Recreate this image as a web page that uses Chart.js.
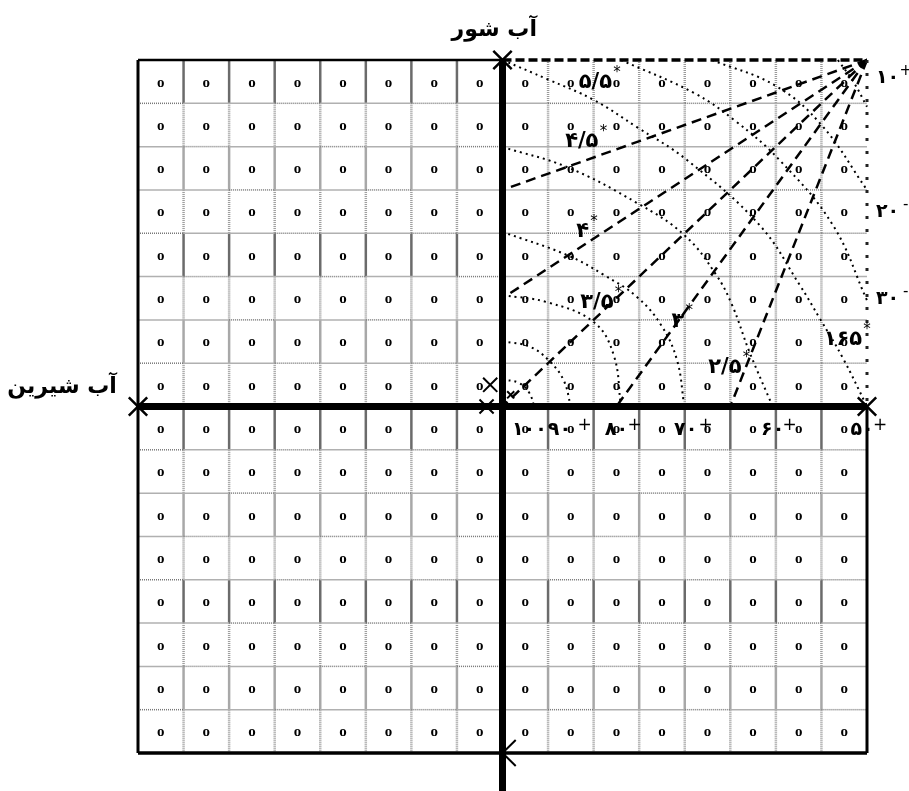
<!DOCTYPE html>
<html>
<head>
<meta charset="utf-8">
<script src="https://cdn.jsdelivr.net/npm/chart.js@4.4.0/dist/chart.umd.min.js"></script>
<style>
  html, body { margin: 0; padding: 0; background: #fff; }
  #wrap { width: 909px; height: 791px; }
</style>
</head>
<body>
<div id="wrap"><canvas id="nomo" width="909" height="791"></canvas></div>
<script>
// =============================
// DATA (grid units, origin = axis crossing)
// =============================
const gridCols = [-8, -7, -6, -5, -4, -3, -2, -1, 0, 1, 2, 3, 4, 5, 6, 7, 8];
const gridRows = [8, 7, 6, 5, 4, 3, 2, 1, 0, -1, -2, -3, -4, -5, -6, -7, -8];
const cellCentersX = [-7.5, -6.5, -5.5, -4.5, -3.5, -2.5, -1.5, -0.5, 0.5, 1.5, 2.5, 3.5, 4.5, 5.5, 6.5, 7.5];
const cellCentersY = [7.5, 6.5, 5.5, 4.5, 3.5, 2.5, 1.5, 0.5, -0.5, -1.5, -2.5, -3.5, -4.5, -5.5, -6.5, -7.5];
const cellText = 'o';

// dashed rays from the top-right corner
const rayOrigin = [8, 8];
const rayEnds = [[0, 5], [0, 2.5], [0, 0], [2.5, 0], [5, 0]];

// dotted curves
const curveA = [[0, 0.62], [0.35, 0.55], [0.58, 0.33], [0.7, 0]];
const curveB = [[0, 1.51], [0.6, 1.38], [1.01, 1.07], [1.34, 0.61], [1.5, 0]];
const curveC = [[0, 2.57], [0.97, 2.41], [2.0, 1.95], [2.44, 1.19], [2.6, 0]];
const curveD = [[0, 4.03], [1.41, 3.5], [2.22, 3.04], [2.95, 2.53], [3.48, 1.88], [3.83, 1.07], [3.99, 0]];
const curveE = [[0, 5.99], [1.41, 5.53], [2.95, 4.7], [4.0, 3.95], [4.69, 3.04], [5.04, 2.34], [5.42, 1.26], [5.93, 0]];
const curveF = [[0, 8], [1.0, 7.55], [2.0, 7.08], [2.95, 6.45], [4.05, 5.69], [5.64, 4.19], [6.52, 2.81], [6.96, 2.04], [7.47, 1.12], [8, 0]];
const curveG = [[2.6, 8], [4.2, 7.24], [5.1, 6.6], [6.08, 5.69], [7.25, 4.19], [8, 2.45]];
const curveH = [[4.6, 8], [6.0, 7.4], [7.0, 6.5], [8, 5.0]];
const curveI = [[7.36, 8], [7.7, 7.5], [8, 6.92]];

// curve labels
const curveLabels = ['۵/۵', '۴/۵', '۴', '۳/۵', '۳', '۲/۵', '۱۶۵'];
const curveLabelX = [2.04, 1.74, 1.76, 2.07, 3.85, 4.88, 7.47];
const curveLabelY = [7.47, 6.11, 4.03, 2.39, 1.96, 0.89, 1.54];

// right side scale
const rightLabels = ['۱۰', '۲۰', '۳۰'];
const rightLabelY = [7.59, 4.49, 2.48];
const rightMarks = ['+', '-', '-'];

// bottom scale (under the horizontal axis)
const bottomLabels = ['۱۰۰', '۹۰', '۸۰', '۷۰', '۶۰', '۵۰'];
const bottomLabelX = [0.59, 1.25, 2.5, 4.02, 5.93, 7.89];
const bottomPlusX = [null, 1.8, 2.9, 4.46, 6.3, 8.29];

// cross marks
const bigCrosses = [[0, 8], [-8, 0], [8, 0]];
const smallCrosses = [[-0.35, 0], [-0.27, 0.5]];
const tinyCrosses = [[0.18, 0.27]];

const titleTop = 'آب شور';
const titleLeft = 'آب شیرین';

const toPts = arr => arr.map(p => ({ x: p[0], y: p[1] }));

// =============================
// DATASETS
// =============================
const datasets = [];

function addLine(points, opts) {
  datasets.push(Object.assign({
    type: 'line',
    data: toPts(points),
    borderColor: '#000',
    borderWidth: 2,
    pointRadius: 0,
    tension: 0,
    fill: false,
    clip: false
  }, opts));
}

// frame
addLine([[-8, 8], [0, 8]], { borderWidth: 2.5 });
addLine([[-8, 8], [-8, -8]], { borderWidth: 3 });
addLine([[-8, -8], [8, -8]], { borderWidth: 3.5 });
addLine([[8, 0], [8, -8]], { borderWidth: 3 });
addLine([[0, 8], [8, 8]], { borderWidth: 3.5, borderDash: [9, 4] });
addLine([[8, 8], [8, 0]], { borderWidth: 3, borderDash: [3, 10], borderColor: '#222' });

// rays
rayEnds.forEach(e => addLine([rayOrigin, e], { borderWidth: 2.5, borderDash: [10, 6] }));

// curves
[curveA, curveB, curveC, curveD, curveE, curveF, curveG, curveH, curveI].forEach(c =>
  addLine(c, { borderWidth: 2, borderDash: [2, 4], tension: 0.4 })
);

// main axes
addLine([[-8, 0], [8, 0]], { borderWidth: 7 });
addLine([[0, 8], [0, -9]], { borderWidth: 7 });

// bottom half-cross
addLine([[0.29, -7.7], [0, -8], [0.29, -8.3]], { borderWidth: 2 });

// crosses
datasets.push({
  type: 'scatter', data: toPts(bigCrosses), pointStyle: 'crossRot',
  pointRadius: 13, borderColor: '#000', borderWidth: 2.5, clip: false
});
datasets.push({
  type: 'scatter', data: toPts(smallCrosses), pointStyle: 'crossRot',
  pointRadius: 10, borderColor: '#000', borderWidth: 2, clip: false
});
datasets.push({
  type: 'scatter', data: toPts(tinyCrosses), pointStyle: 'crossRot',
  pointRadius: 5, borderColor: '#000', borderWidth: 2, clip: false
});

// =============================
// GRID + TEXT PLUGIN
// =============================
const paperPlugin = {
  id: 'paper',
  beforeDatasetsDraw(chart) {
    const { ctx, scales: { x, y } } = chart;
    ctx.save();

    // vertical grid segments, style changes per row
    for (const c of gridCols) {
      if (c === -8 || c === 0 || c === 8) continue;
      const px = x.getPixelForValue(c);
      for (let r = 0; r < gridRows.length - 1; r++) {
        const y0 = y.getPixelForValue(gridRows[r]);
        const y1 = y.getPixelForValue(gridRows[r + 1]);
        const upperRight = c > 0 && gridRows[r] > 0;
        const kind = upperRight ? 1 : r % 4;
        if (kind === 0) {
          ctx.strokeStyle = '#6b6b6b'; ctx.lineWidth = 2.5; ctx.setLineDash([]);
        } else if (kind === 2) {
          ctx.strokeStyle = '#a8a8a8'; ctx.lineWidth = 2.5; ctx.setLineDash([]);
        } else {
          ctx.strokeStyle = '#9a9a9a'; ctx.lineWidth = 2.5; ctx.setLineDash([1, 1]);
        }
        ctx.beginPath();
        ctx.moveTo(px, y0);
        ctx.lineTo(px, y1);
        ctx.stroke();
      }
    }

    // horizontal grid segments
    for (const rv of gridRows) {
      if (rv === 8 || rv === 0 || rv === -8) continue;
      const py = y.getPixelForValue(rv);
      for (let k = 0; k < gridCols.length - 1; k++) {
        const x0 = x.getPixelForValue(gridCols[k]);
        const x1 = x.getPixelForValue(gridCols[k + 1]);
        if ((k + Math.abs(rv)) % 3 === 1) {
          ctx.strokeStyle = '#777'; ctx.lineWidth = 1.5; ctx.setLineDash([1, 1]);
        } else {
          ctx.strokeStyle = '#b0b0b0'; ctx.lineWidth = 1.5; ctx.setLineDash([]);
        }
        ctx.beginPath();
        ctx.moveTo(x0, py);
        ctx.lineTo(x1, py);
        ctx.stroke();
      }
    }
    ctx.setLineDash([]);

    // "o" in every cell
    ctx.fillStyle = '#000';
    ctx.font = 'bold 15px "Liberation Serif"';
    ctx.textAlign = 'center';
    ctx.textBaseline = 'middle';
    for (const cy of cellCentersY) {
      for (const cx of cellCentersX) {
        ctx.fillText(cellText, x.getPixelForValue(cx), y.getPixelForValue(cy) + 1);
      }
    }
    ctx.restore();
  },

  afterDatasetsDraw(chart) {
    const { ctx, scales: { x, y } } = chart;
    ctx.save();
    ctx.fillStyle = '#000';
    ctx.textAlign = 'center';
    ctx.textBaseline = 'middle';

    // curve labels with star
    curveLabels.forEach((t, i) => {
      const px = x.getPixelForValue(curveLabelX[i]);
      const py = y.getPixelForValue(curveLabelY[i]);
      ctx.font = 'bold 21px "DejaVu Sans"';
      ctx.fillText(t, px, py);
      const w = ctx.measureText(t).width;
      ctx.font = '15px "DejaVu Sans"';
      ctx.fillText('*', px + w / 2 + 5, py - 10);
    });

    // right scale
    rightLabels.forEach((t, i) => {
      const py = y.getPixelForValue(rightLabelY[i]);
      const px = x.getPixelForValue(8.45);
      ctx.font = 'bold 19px "DejaVu Sans"';
      ctx.fillText(t, px, py);
      ctx.font = '15px "DejaVu Sans"';
      ctx.fillText(rightMarks[i], x.getPixelForValue(8.85), py - 7);
    });

    // bottom scale
    bottomLabels.forEach((t, i) => {
      const px = x.getPixelForValue(bottomLabelX[i]);
      const py = y.getPixelForValue(-0.54);
      ctx.font = 'bold 19px "DejaVu Sans"';
      ctx.fillText(t, px, py);
      if (bottomPlusX[i] !== null) {
        ctx.font = '17px "DejaVu Sans"';
        ctx.fillText('+', x.getPixelForValue(bottomPlusX[i]), py - 4);
      }
    });

    // titles
    ctx.font = 'bold 22px "DejaVu Sans"';
    ctx.fillText(titleTop, x.getPixelForValue(-0.18), 30);
    ctx.fillText(titleLeft, 62, y.getPixelForValue(0.45));
    ctx.restore();
  }
};

// =============================
// CHART
// =============================
const ctx = document.getElementById('nomo').getContext('2d');
window.nomoChart = new Chart(ctx, {
  type: 'scatter',
  data: { datasets },
  options: {
    responsive: false,
    animation: false,
    devicePixelRatio: 1,
    layout: { padding: { left: 138, right: 42, top: 60, bottom: 38 } },
    scales: {
      x: { type: 'linear', min: -8, max: 8, display: false },
      y: { type: 'linear', min: -8, max: 8, display: false }
    },
    plugins: {
      legend: { display: false },
      tooltip: { enabled: false }
    }
  },
  plugins: [paperPlugin]
});
</script>
</body>
</html>
